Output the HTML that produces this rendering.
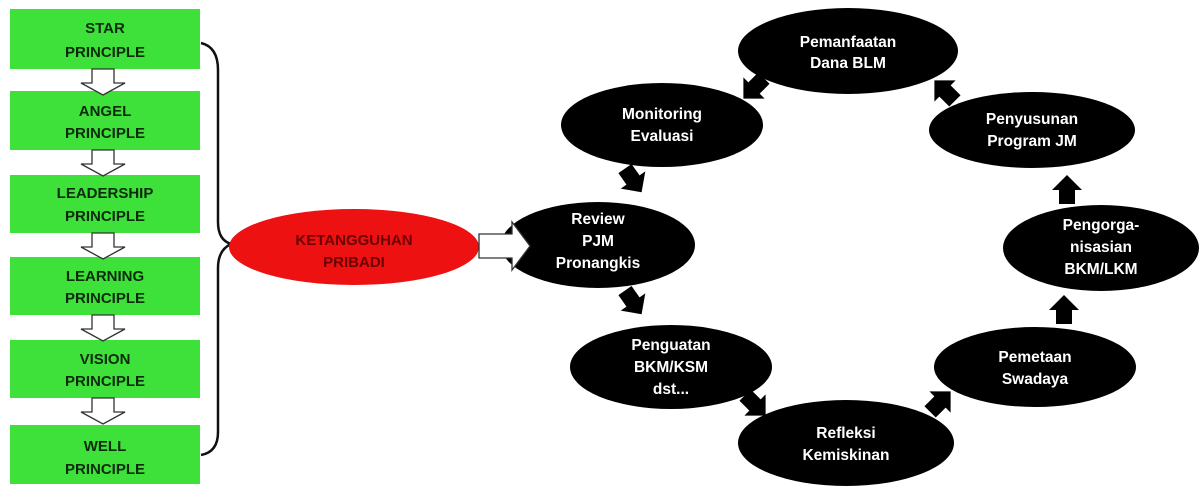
<!DOCTYPE html>
<html><head><meta charset="utf-8"><style>
html,body{margin:0;padding:0;background:#fff;width:1203px;height:486px;overflow:hidden}
svg{display:block}
text{font-family:"Liberation Sans",sans-serif;font-weight:bold;text-anchor:middle}
.g{fill:#0c2a0c;font-size:15px}
.w{fill:#fff;font-size:15.5px}
</style></head><body>
<svg width="1203" height="486" viewBox="0 0 1203 486" xmlns="http://www.w3.org/2000/svg">
<defs>
<path id="ha" d="M-8,-14 L8,-14 L8,0 L15,0 L0,15 L-15,0 L-8,0 Z" fill="#000"/>
<path id="hollow" d="M-11,0 L11,0 L11,14 L22,14 L0,26 L-22,14 L-11,14 Z" fill="#fff" stroke="#333" stroke-width="1.3"/>
</defs>
<g fill="#3ee03a">
<rect x="10" y="9" width="190" height="60"/>
<rect x="10" y="91" width="190" height="59"/>
<rect x="10" y="175" width="190" height="58"/>
<rect x="10" y="257" width="190" height="58"/>
<rect x="10" y="340" width="190" height="58"/>
<rect x="10" y="425" width="190" height="59"/>
</g>
<use href="#hollow" x="103" y="69"/>
<use href="#hollow" x="103" y="150"/>
<use href="#hollow" x="103" y="233"/>
<use href="#hollow" x="103" y="315"/>
<use href="#hollow" x="103" y="398"/>
<text class="g" x="105" y="33">STAR</text><text class="g" x="105" y="57">PRINCIPLE</text>
<text class="g" x="105" y="116">ANGEL</text><text class="g" x="105" y="138">PRINCIPLE</text>
<text class="g" x="105" y="198">LEADERSHIP</text><text class="g" x="105" y="221">PRINCIPLE</text>
<text class="g" x="105" y="281">LEARNING</text><text class="g" x="105" y="303">PRINCIPLE</text>
<text class="g" x="105" y="364">VISION</text><text class="g" x="105" y="386">PRINCIPLE</text>
<text class="g" x="105" y="451">WELL</text><text class="g" x="105" y="474">PRINCIPLE</text>
<path d="M201,43 Q218,47 218,70 L218,222 Q218,240 231,244 Q218,250 218,268 L218,432 Q218,452 201,455" fill="none" stroke="#111" stroke-width="2.5"/>
<ellipse cx="354" cy="247" rx="125" ry="38" fill="#ee1111"/>
<text x="354" y="245" style="font-size:15px;fill:#6a0000">KETANGGUHAN</text>
<text x="354" y="267" style="font-size:15px;fill:#6a0000">PRIBADI</text>
<g fill="#000">
<ellipse cx="848" cy="51" rx="110" ry="43"/>
<ellipse cx="662" cy="125" rx="101" ry="42"/>
<ellipse cx="1032" cy="130" rx="103" ry="38"/>
<ellipse cx="598" cy="245" rx="97" ry="43"/>
<ellipse cx="1101" cy="248" rx="98" ry="43"/>
<ellipse cx="671" cy="367" rx="101" ry="42"/>
<ellipse cx="1035" cy="367" rx="101" ry="40"/>
<ellipse cx="846" cy="443" rx="108" ry="43"/>
</g>
<path d="M479,234 L512,234 L512,222 L530,246 L512,270 L512,258 L479,258 Z" fill="#fff" stroke="#333" stroke-width="1.3"/>
<use href="#ha" transform="translate(754,88) rotate(45)"/>
<use href="#ha" transform="translate(945,91) rotate(135)"/>
<use href="#ha" transform="translate(633,180) rotate(-35)"/>
<use href="#ha" transform="translate(1067,190) rotate(180)"/>
<use href="#ha" transform="translate(633,302) rotate(-35)"/>
<use href="#ha" transform="translate(1064,310) rotate(180)"/>
<use href="#ha" transform="translate(755,405) rotate(-45)"/>
<use href="#ha" transform="translate(940,402) rotate(-135)"/>
<text class="w" x="848" y="47">Pemanfaatan</text><text class="w" x="848" y="68">Dana BLM</text>
<text class="w" x="662" y="119">Monitoring</text><text class="w" x="662" y="141">Evaluasi</text>
<text class="w" x="1032" y="124">Penyusunan</text><text class="w" x="1032" y="146">Program JM</text>
<text class="w" x="598" y="224">Review</text><text class="w" x="598" y="246">PJM</text><text class="w" x="598" y="268">Pronangkis</text>
<text class="w" x="1101" y="230">Pengorga-</text><text class="w" x="1101" y="252">nisasian</text><text class="w" x="1101" y="274">BKM/LKM</text>
<text class="w" x="671" y="350">Penguatan</text><text class="w" x="671" y="372">BKM/KSM</text><text class="w" x="671" y="394">dst...</text>
<text class="w" x="1035" y="362">Pemetaan</text><text class="w" x="1035" y="384">Swadaya</text>
<text class="w" x="846" y="438">Refleksi</text><text class="w" x="846" y="460">Kemiskinan</text>
</svg>
</body></html>
